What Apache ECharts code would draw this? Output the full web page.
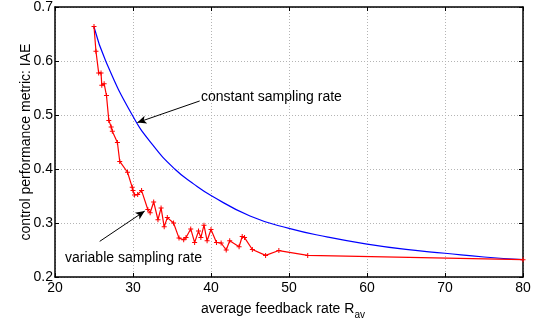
<!DOCTYPE html>
<html>
<head>
<meta charset="utf-8">
<script src="https://cdn.jsdelivr.net/npm/echarts@6/dist/echarts.min.js"></script>
<style>
  html, body { margin: 0; padding: 0; background: #fff; }
  #chart { width: 550px; height: 325px; }
</style>
</head>
<body>
<div id="chart"></div>
<script>
// constant sampling rate curve (blue)
var constantRate = [25, 26.5, 29.9, 32.5, 35.35, 37.8, 40, 45, 50, 55, 60, 65, 70, 75, 80]
var constantIAE = [0.663, 0.600, 0.500, 0.445, 0.400, 0.372, 0.351, 0.313, 0.290, 0.274, 0.261, 0.251, 0.244, 0.237, 0.232]

// variable sampling rate (red, with markers)
var variableRate = [25.0, 25.25, 25.6, 25.9, 26.0, 26.3, 26.6, 26.9, 27.2, 27.35, 28.0, 28.3, 29.3, 29.9, 30.0, 30.2, 30.6, 31.1,
  31.9, 32.2, 32.65, 33.2, 33.6, 34.0, 34.4, 35.2, 35.9, 36.5, 36.8, 37.4, 37.9, 38.4, 38.7, 39.1, 39.5, 40.0,
  40.7, 41.3, 41.95, 42.4, 43.6, 44.0, 44.3, 45.3, 47.0, 48.7, 52.4, 80.0]
var variableIAE = [0.664, 0.618, 0.578, 0.578, 0.555, 0.558, 0.536, 0.490, 0.478, 0.470, 0.449, 0.414, 0.394, 0.366, 0.360, 0.352, 0.353, 0.360,
  0.325, 0.319, 0.339, 0.306, 0.328, 0.293, 0.310, 0.300, 0.272, 0.269, 0.273, 0.289, 0.264, 0.285, 0.273, 0.296, 0.267, 0.288,
  0.264, 0.263, 0.250, 0.267, 0.256, 0.275, 0.273, 0.251, 0.240, 0.249, 0.240, 0.232]

var xTicks = [20, 30, 40, 50, 60, 70, 80]
var yTicks = [0.2, 0.3, 0.4, 0.5, 0.6, 0.7]

// annotation arrows in data coordinates: [tail, head]
var constantArrow = [[38.55, 0.526], [30.56, 0.486]]
var variableArrow = [[25.73, 0.266], [31.5, 0.322]]

var fontName = 'Liberation Sans, Arial, Helvetica, sans-serif'
var frameColor = '#000'
var gridColor = '#b4b4b4'

var myChart = echarts.init(document.getElementById('chart'), null, { renderer: 'canvas' })

var plusSymbol = 'path://M2,0h1v2h2v1h-2v2h-1v-2h-2v-1h2z'

function pairs(xs, ys) {
  return xs.map(function (x, i) { return [x, ys[i]] })
}

var option = {
  animation: false,
  backgroundColor: '#fff',
  textStyle: { fontFamily: fontName },
  grid: { left: 55, right: 27, top: 6, bottom: 45 },
  xAxis: [{
    type: 'value',
    min: xTicks[0],
    max: xTicks[xTicks.length - 1],
    interval: 10,
    name: '{a|average feedback rate R}{s|av}',
    nameLocation: 'middle',
    nameGap: 22,
    nameTextStyle: {
      padding: [0, 12, 0, 0],
      rich: {
        a: { fontSize: 14, color: '#000', fontFamily: fontName },
        s: { fontSize: 10, color: '#000', fontFamily: fontName, padding: [11, 0, 0, 0] }
      }
    },
    axisLine: { lineStyle: { color: frameColor, width: 1.5 } },
    axisTick: { inside: true, length: 4, lineStyle: { color: frameColor } },
    axisLabel: { color: '#000', fontSize: 14, margin: 4, fontFamily: fontName },
    splitLine: { show: true, lineStyle: { color: gridColor, type: [1, 2], width: 1 } }
  }, {
    type: 'value',
    position: 'top',
    min: xTicks[0],
    max: xTicks[xTicks.length - 1],
    interval: 10,
    axisLine: { lineStyle: { color: frameColor, width: 1.5 } },
    axisTick: { inside: true, length: 4, lineStyle: { color: frameColor } },
    axisLabel: { show: false },
    splitLine: { show: false }
  }],
  yAxis: [{
    type: 'value',
    min: yTicks[0],
    max: yTicks[yTicks.length - 1],
    interval: 0.1,
    name: 'control performance metric: IAE',
    nameLocation: 'middle',
    nameGap: 22,
    nameMoveOverlap: false,
    nameTextStyle: { fontSize: 14, color: '#000', fontFamily: fontName },
    axisLine: { lineStyle: { color: frameColor, width: 1.5 } },
    axisTick: { inside: true, length: 4, lineStyle: { color: frameColor } },
    axisLabel: {
      color: '#000', fontSize: 14, margin: 2, fontFamily: fontName,
      formatter: function (v) { return v.toFixed(1) }
    },
    splitLine: { show: true, lineStyle: { color: gridColor, type: [1, 2], width: 1 } }
  }, {
    type: 'value',
    position: 'right',
    min: yTicks[0],
    max: yTicks[yTicks.length - 1],
    interval: 0.1,
    axisLine: { show: true, lineStyle: { color: frameColor, width: 1.5 } },
    axisTick: { show: true, inside: true, length: 4, lineStyle: { color: frameColor } },
    axisLabel: { show: false },
    splitLine: { show: false }
  }],
  series: [{
    name: 'constant sampling rate',
    type: 'line',
    smooth: 0.5,
    showSymbol: false,
    symbol: 'none',
    lineStyle: { color: '#0000ff', width: 1.2 },
    data: pairs(constantRate, constantIAE),
    markLine: {
      silent: true,
      symbol: ['none', 'arrow'],
      symbolSize: [6, 9],
      label: { show: false },
      lineStyle: { color: '#000', width: 1, type: 'solid' },
      data: [
        [{ coord: constantArrow[0] }, { coord: constantArrow[1] }],
        [{ coord: variableArrow[0] }, { coord: variableArrow[1] }]
      ]
    },
    z: 2
  }, {
    name: 'variable sampling rate',
    type: 'line',
    symbol: plusSymbol,
    symbolSize: 5,
    itemStyle: { color: '#ff0000' },
    lineStyle: { color: '#ff0000', width: 1.2 },
    data: pairs(variableRate, variableIAE),
    z: 3
  }],
  graphic: [{
    type: 'text',
    left: 201,
    top: 90,
    style: { text: 'constant sampling rate', fontSize: 14, fill: '#000', fontFamily: fontName }
  }, {
    type: 'text',
    left: 65,
    top: 251,
    style: { text: 'variable sampling rate', fontSize: 14, fill: '#000', fontFamily: fontName }
  }]
}

myChart.setOption(option, true)
</script>
</body>
</html>
